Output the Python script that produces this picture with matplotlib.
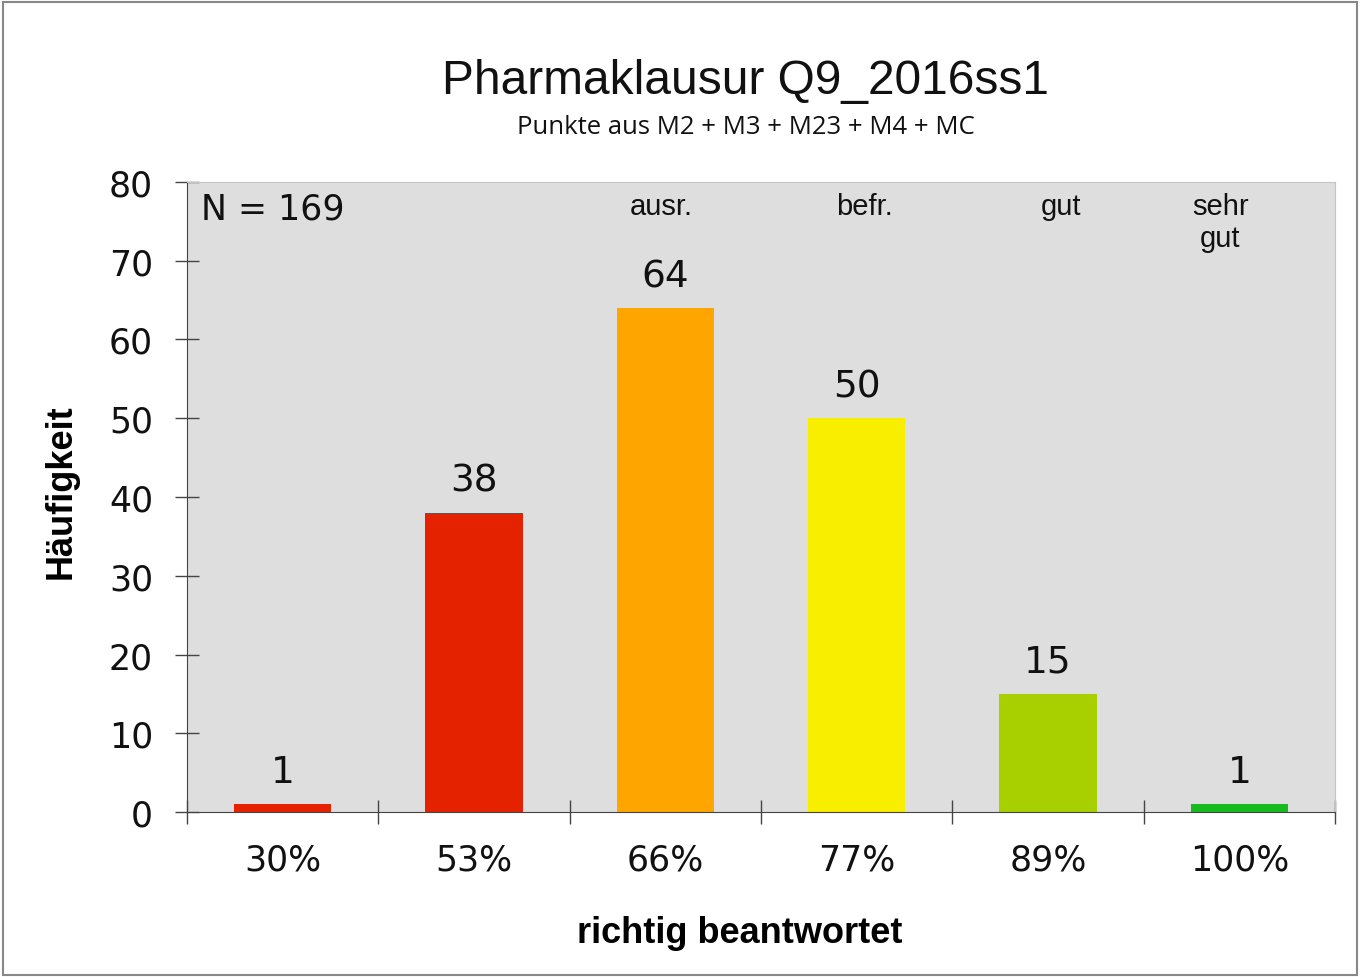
import matplotlib.pyplot as plt
from matplotlib.patches import Rectangle

categories = ["30%", "53%", "66%", "77%", "89%", "100%"]
counts = [1, 38, 64, 50, 15, 1]
colors = ["#e52200", "#e52200", "#ffa500", "#f8ee00", "#a8cf00", "#16bb1e"]
grade_names = ["ausr.", "befr.", "gut", "sehr\ngut"]
grade_x = [1.98, 3.04, 4.07, 4.9]

fig = plt.figure(figsize=(13.61, 9.78), dpi=100)
ax = fig.add_axes([0.1374, 0.1687, 0.8435, 0.6442])
ax.set_facecolor("#dedede")

x = list(range(len(categories)))
ax.bar(x, counts, width=0.51, color=colors, zorder=2)

# value labels over bars
for xi, c in zip(x, counts):
    ax.annotate(str(c), (xi, c), xytext=(0, 10), textcoords="offset points",
                ha="center", va="bottom", fontsize=27, color="#111111")

# grade labels at top
for gx, g in zip(grade_x, grade_names):
    ax.text(gx, 78.7, g, ha="center", va="top", fontsize=21,
            family="Liberation Sans", color="#111111", linespacing=1.15)

ax.text(0.012, 0.985, "N = 169", transform=ax.transAxes, ha="left", va="top",
        fontsize=25, color="#111111")

ax.set_xlim(-0.5, len(categories) - 0.5)
ax.set_ylim(0, 80)
ax.set_yticks(range(0, 81, 10))
ax.tick_params(axis="y", labelsize=25, direction="inout", length=17, width=1,
               pad=16, colors="#444444", labelcolor="#111111")
ax.set_xticks(x)
ax.set_xticklabels(categories)
ax.set_xticks([i - 0.5 for i in range(len(categories) + 1)], minor=True)
ax.tick_params(axis="x", which="major", length=0, labelsize=25, pad=22,
               labelcolor="#111111")
ax.tick_params(axis="x", which="minor", direction="inout", length=17, width=1,
               colors="#444444")

for s in ["top", "right"]:
    ax.spines[s].set_color("#c4c4c4")
for s in ["left", "bottom"]:
    ax.spines[s].set_color("#444444")

ax.set_ylabel("Häufigkeit", fontsize=26, fontweight="bold", family="Liberation Sans")
ax.yaxis.set_label_coords(-0.094, 0.51)
ax.set_xlabel("richtig beantwortet", fontsize=26, fontweight="bold",
              family="Liberation Sans")
ax.xaxis.set_label_coords(0.4817, -0.163)

fig.text(0.548, 0.917, "Pharmaklausur Q9_2016ss1", ha="center", va="center",
         fontsize=34.5, family="Liberation Sans", color="#111111")
fig.text(0.548, 0.870, "Punkte aus M2 + M3 + M23 + M4 + MC", ha="center", va="center",
         fontsize=18.5, family="Open Sans", color="#111111")

# frame around the whole picture
fig.patches.append(Rectangle((0.002, 0.002), 0.995, 0.995, transform=fig.transFigure,
                             fill=False, edgecolor="#888888", linewidth=1.5))

fig.savefig("out.png", dpi=100)
